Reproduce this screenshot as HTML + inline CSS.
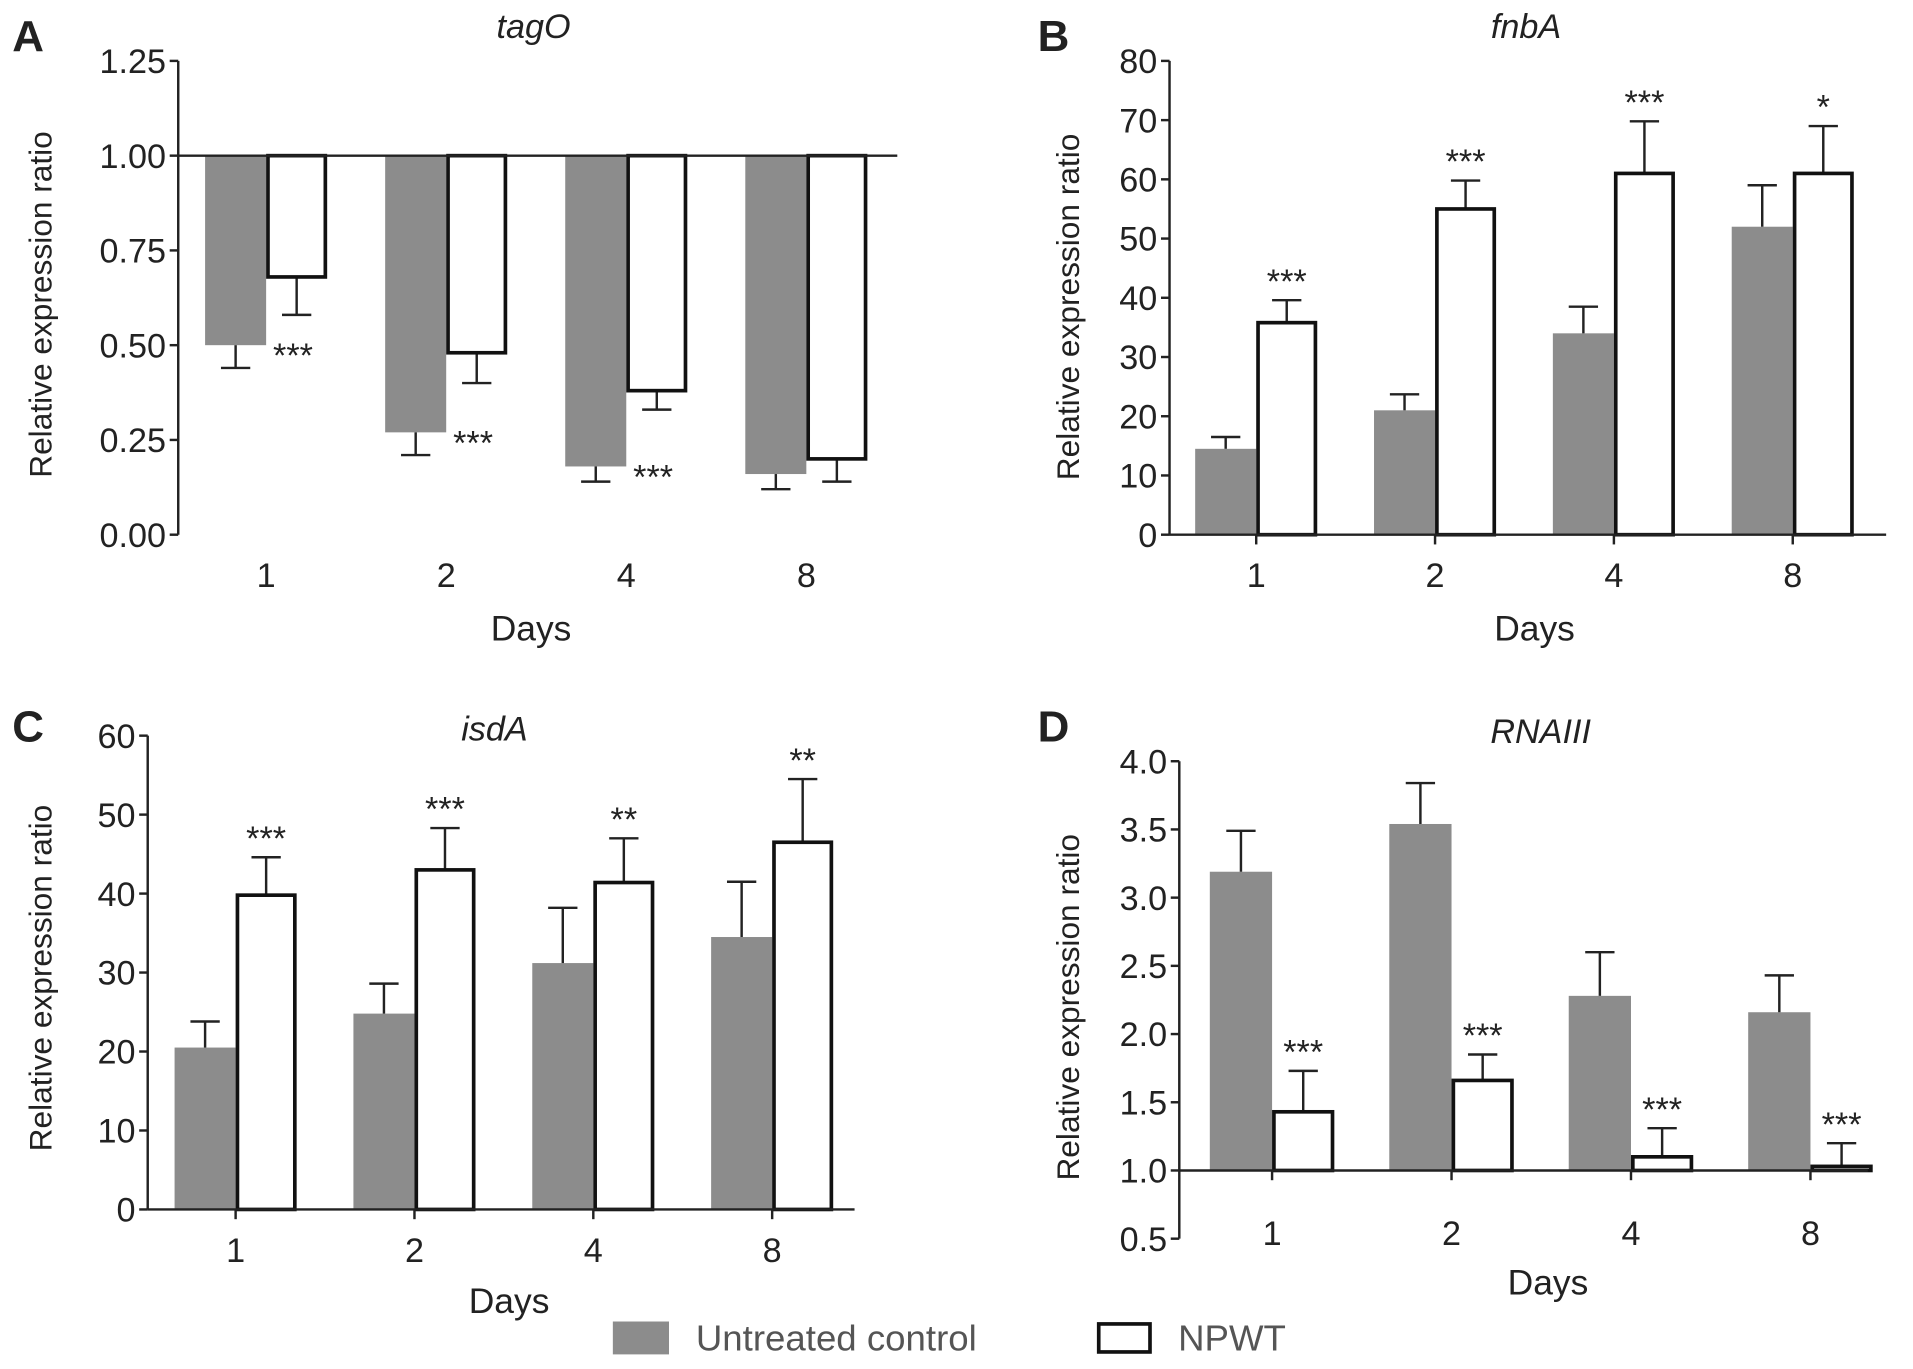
<!DOCTYPE html>
<html><head><meta charset="utf-8"><style>
html,body{margin:0;padding:0;background:#fff}
svg{display:block}
text{font-family:"Liberation Sans",sans-serif;fill:#222}
</style></head><body>
<svg id="fig" width="1913" height="1369" viewBox="0 0 1567 1124" preserveAspectRatio="none" xmlns="http://www.w3.org/2000/svg">
<g>
<rect x="502" y="1085" width="46" height="27" fill="#8c8c8c"/>
<text x="570" y="1109" font-size="30" style="fill:#555">Untreated control</text>
<rect x="900" y="1087" width="42" height="23" fill="#fff" stroke="#111" stroke-width="3"/>
<text x="965" y="1109" font-size="30" style="fill:#555">NPWT</text>
</g>
</svg>
<script>
const categories=["1","2","4","8"];
const aCtrl=[0.50,0.27,0.18,0.16], aCtrlErr=[0.06,0.06,0.04,0.04];
const aNpwt=[0.68,0.48,0.38,0.20], aNpwtErr=[0.10,0.08,0.05,0.06];
const aStars=["***","***","***",""];
const aTicks=["0.00","0.25","0.50","0.75","1.00","1.25"];
const bCtrl=[14.5,21,34,52], bCtrlErr=[2,2.7,4.5,7];
const bNpwt=[35.8,55,61,61], bNpwtErr=[3.8,4.8,8.8,8];
const bStars=["***","***","***","*"];
const bTicks=["0","10","20","30","40","50","60","70","80"];
const cCtrl=[20.5,24.8,31.2,34.5], cCtrlErr=[3.3,3.8,7,7];
const cNpwt=[39.8,43,41.4,46.5], cNpwtErr=[4.8,5.3,5.6,8];
const cStars=["***","***","**","**"];
const cTicks=["0","10","20","30","40","50","60"];
const dCtrl=[3.19,3.54,2.28,2.16], dCtrlErr=[0.30,0.30,0.32,0.27];
const dNpwt=[1.43,1.66,1.10,1.03], dNpwtErr=[0.30,0.19,0.21,0.17];
const dStars=["***","***","***","***"];
const dTicks=["0.5","1.0","1.5","2.0","2.5","3.0","3.5","4.0"];

const NS="http://www.w3.org/2000/svg";
const svg=document.getElementById('fig');
function mk(tag,attrs,parent){const e=document.createElementNS(NS,tag);for(const k in attrs)e.setAttribute(k,attrs[k]);parent.appendChild(e);return e;}

function panel(p){
  const g=mk('g',{},svg);
  
  
  const y=v=>p.y0+(v-p.vmin)/(p.vmax-p.vmin)*(p.y1-p.y0);
  const gx=i=>p.gx0+i*p.step;
  const bw=p.bw;
  const ax=mk('line',{x1:p.ax,x2:p.ax,y1:p.y1,y2:p.y0,stroke:'#222','stroke-width':2},g);
  
  
  p.ticks.forEach(t=>{
    const v=parseFloat(t),yy=y(v);
    mk('line',{x1:p.ax-7,x2:p.ax,y1:yy,y2:yy,stroke:'#222','stroke-width':2},g);
    const tx=mk('text',{x:p.ax-10,y:yy+10,'font-size':28,'text-anchor':'end'},g);
    tx.textContent=t;
    
    
  });
  categories.forEach((c,i)=>{
    const cx=gx(i);
    const yb=y(p.base),yc=y(p.ctrl[i]),yn=y(p.npwt[i]);
    const r=mk('rect',{x:cx-bw,y:Math.min(yb,yc),width:bw,height:Math.abs(yc-yb),fill:'#8c8c8c'},g);
    
    
    const down=p.ctrl[i]<p.base;
    const ex=cx-bw/2, e1=y(p.ctrl[i]+(down?-1:1)*p.ctrlErr[i]);
    mk('line',{x1:ex,x2:ex,y1:yc,y2:e1,stroke:'#222','stroke-width':2},g);
    mk('line',{x1:ex-12,x2:ex+12,y1:e1,y2:e1,stroke:'#222','stroke-width':2},g);
    const ndown=p.npwt[i]<p.base;
    const nx=cx+bw/2, e2=y(p.npwt[i]+(ndown?-1:1)*p.npwtErr[i]);
    mk('line',{x1:nx,x2:nx,y1:yn,y2:e2,stroke:'#222','stroke-width':2},g);
    mk('line',{x1:nx-12,x2:nx+12,y1:e2,y2:e2,stroke:'#222','stroke-width':2},g);
    const w=mk('rect',{x:cx+1.5,y:Math.min(yb,yn),width:bw-3,height:Math.max(Math.abs(yn-yb),1),fill:'#fff',stroke:'#111','stroke-width':3},g);
    
    
    if(p.stars[i]){
      let sx=nx, sy=e2-6;
      if(p.id==='A'){sx=cx+bw/2-3; sy=yc+18;}
      const st=mk('text',{x:sx,y:sy,'font-size':28,'text-anchor':'middle'},g);
      st.textContent=p.stars[i];
      
      
    }
    const tl=mk('text',{x:cx,y:p.labY,'font-size':28,'text-anchor':'middle'},g);
    tl.textContent=c;
    
    
    if(p.xticks) mk('line',{x1:cx,x2:cx,y1:y(p.base),y2:y(p.base)+8,stroke:'#222','stroke-width':2},g);
  });
  const bl=mk('line',{x1:p.ax,x2:p.axEnd,y1:y(p.base),y2:y(p.base),stroke:'#222','stroke-width':2},g);
  
  
  const t=mk('text',{x:p.titleX,y:p.titleY,'font-size':28,'font-style':'italic','text-anchor':'middle'},g);
  t.textContent=p.title;
  
  
  const L=mk('text',{x:p.letterX,y:p.letterY,'font-size':36,'font-weight':'bold'},g);
  L.textContent=p.id;
  
  
  const d=mk('text',{x:p.daysX,y:p.daysY,'font-size':29,'text-anchor':'middle'},g);
  d.textContent='Days';
  
  
  const yl=mk('text',{x:0,y:0,'font-size':26,'text-anchor':'middle',transform:`translate(${p.ylX},${p.ylY}) rotate(-90)`},g);
  yl.textContent='Relative expression ratio';
  
  
}

panel({id:'A',title:'tagO',ctrl:aCtrl,ctrlErr:aCtrlErr,npwt:aNpwt,npwtErr:aNpwtErr,stars:aStars,ticks:aTicks,
  vmin:0,vmax:1.25,y0:439,y1:50,base:1.0,ax:146,axEnd:735,gx0:218,step:147.5,bw:50,labY:482,xticks:false,
  titleX:437,titleY:31,letterX:10,letterY:42,daysX:435,daysY:526,ylX:42,ylY:250});
panel({id:'B',title:'fnbA',ctrl:bCtrl,ctrlErr:bCtrlErr,npwt:bNpwt,npwtErr:bNpwtErr,stars:bStars,ticks:bTicks,
  vmin:0,vmax:80,y0:439,y1:50,base:0,ax:958,axEnd:1545,gx0:1029,step:146.5,bw:50,labY:482,xticks:true,
  titleX:1250,titleY:31,letterX:850,letterY:42,daysX:1257,daysY:526,ylX:884,ylY:252});
panel({id:'C',title:'isdA',ctrl:cCtrl,ctrlErr:cCtrlErr,npwt:cNpwt,npwtErr:cNpwtErr,stars:cStars,ticks:cTicks,
  vmin:0,vmax:60,y0:993,y1:604,base:0,ax:121,axEnd:700,gx0:193,step:146.5,bw:50,labY:1036,xticks:true,
  titleX:405,titleY:608,letterX:10,letterY:609,daysX:417,daysY:1078,ylX:42,ylY:803});
panel({id:'D',title:'RNAIII',ctrl:dCtrl,ctrlErr:dCtrlErr,npwt:dNpwt,npwtErr:dNpwtErr,stars:dStars,ticks:dTicks,
  vmin:0.5,vmax:4.0,y0:1017,y1:625,base:1.0,ax:966,axEnd:1530,gx0:1042,step:147,bw:51,labY:1022,xticks:true,
  titleX:1262,titleY:610,letterX:850,letterY:609,daysX:1268,daysY:1063,ylX:884,ylY:827});
</script>
</body></html>
